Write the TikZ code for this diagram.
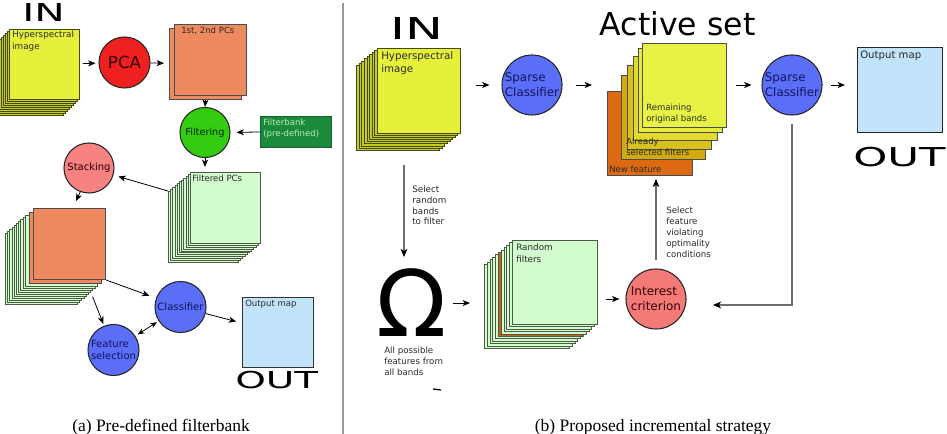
\documentclass[tikz,border=0pt]{standalone}
\usepackage{graphicx}
\usepackage{fontspec}
\setmainfont{DejaVu Sans}
\newfontfamily\capfont{Liberation Serif}
\usetikzlibrary{arrows.meta}
\definecolor{hsiY}{HTML}{E6F03A}
\definecolor{hsiL}{HTML}{C4CC2C}
\definecolor{hsiE}{HTML}{454A10}
\definecolor{pcaR}{HTML}{EE2020}
\definecolor{pcO}{HTML}{EE8A60}
\definecolor{filtG}{HTML}{33CC11}
\definecolor{fbG}{HTML}{1C8A3C}
\definecolor{fbT}{HTML}{B4ECB4}
\definecolor{lgF}{HTML}{D2FCCE}
\definecolor{lgE}{HTML}{4A5C44}
\definecolor{stkP}{HTML}{F88282}
\definecolor{clsB}{HTML}{5A6EF8}
\definecolor{navy}{HTML}{14145A}
\definecolor{outB}{HTML}{C2E4FA}
\definecolor{icP}{HTML}{F47A78}
\definecolor{nfO}{HTML}{DD6A12}
\definecolor{asBc}{HTML}{D2AA0E}
\definecolor{asCc}{HTML}{DAC21C}
\definecolor{asDc}{HTML}{E2DA2C}
\definecolor{asEc}{HTML}{E6EA3C}
\definecolor{asFc}{HTML}{E8F244}
\definecolor{rfO}{HTML}{CC6014}
\definecolor{conG}{HTML}{6E6E6E}
\definecolor{txt}{HTML}{2A2A2A}
\begin{document}
\begin{tikzpicture}[x=0.75pt,y=-0.75pt,
  sq/.style 2 args={rectangle, anchor=north west, inner sep=0pt, minimum width=#1*0.75pt, minimum height=#2*0.75pt, line width=0.7pt},
  circ/.style={circle, draw=black!85, line width=0.8pt, inner sep=0pt, minimum size=#1*0.75pt, align=left},
  lbl/.style={anchor=north west, inner sep=0pt, align=left, text=txt, font=\fontsize{6.4}{8.2}\selectfont},
  big/.style={anchor=base west, inner sep=0pt},
  arr/.style={-{Stealth[length=5.5pt,width=4.5pt,inset=1.5pt]}, line width=0.6pt},
  darr/.style={{Stealth[length=5pt,width=4pt,inset=1.5pt]}-{Stealth[length=5pt,width=4pt,inset=1.5pt]}, line width=0.6pt},
  garr/.style={draw=conG, line width=0.9pt, -{Stealth[length=6pt,width=5pt,inset=1.5pt,color=black]}},
  capt/.style={anchor=base, inner sep=0pt, font=\capfont\fontsize{13.1}{14}\selectfont}
]
\useasboundingbox (0,0) rectangle (947,434);
\fill[white] (0,0) rectangle (947,434);

% divider
\draw[color=black!40, line width=0.9pt] (343,3) -- (343,434);

% ================= (a) =================
\node[big, font=\fontsize{18.5}{18.5}\selectfont] (inA) at (22,22) {\scalebox{1.65}[1]{IN}};

\foreach \k in {8,...,1}
  \node[sq={70}{70}, fill=hsiL, draw=hsiE] (hsiA-\k) at ({9-2*\k},{29+2*\k}) {};
\node[sq={70}{70}, fill=hsiY, draw=hsiE] (hsiA) at (9,29) {};
\node[lbl, font=\fontsize{6.6}{8.3}\selectfont] (hsiAt) at (12,31) {Hyperspectral\\image};

\node[circ=51, fill=pcaR, font=\fontsize{12.5}{12.5}\selectfont, text=black!80!red] (pca) at (124.5,62.5) {PCA};

\node[sq={72}{71}, fill=pcO, draw=black!70] (pcsB) at (169,28) {};
\node[sq={72}{71}, fill=pcO, draw=black!70] (pcs) at (174,24) {};
\node[lbl] (pcst) at (181,27) {1st, 2nd PCs};

\node[circ=50, fill=filtG, font=\fontsize{7.3}{8}\selectfont, text=black!85!green] (filt) at (205,132.5) {Filtering};
\node[sq={71}{31}, fill=fbG, draw=fbG!70!black] (fb) at (260,116) {};
\node[lbl, text=fbT] (fbt) at (263,119) {Filterbank\\(pre-defined)};

\foreach \k in {10,...,1}
  \node[sq={70}{71}, fill=lgF, draw=lgE] (fpc-\k) at ({190-2.2*\k},{172+1.9*\k}) {};
\node[sq={70}{71}, fill=lgF, draw=lgE] (fpc) at (190,172) {};
\node[lbl] (fpct) at (192,175) {Filtered PCs};

\node[circ=50, fill=stkP, font=\fontsize{7.5}{8}\selectfont, text=black!85!red] (stk) at (89,168) {Stacking};

\foreach \k in {10,...,1}
  \node[sq={72}{71}, fill=lgF, draw=lgE] (stG-\k) at ({27-2.2*\k},{213+2*\k}) {};
\node[sq={72}{71}, fill=pcO, draw=black!70] (stB) at (29,212) {};
\node[sq={72}{71}, fill=pcO, draw=black!70] (stA) at (33,208) {};

\node[circ=51, fill=clsB, text=navy, font=\fontsize{7.6}{8}\selectfont] (cls) at (180.5,307) {Classifier};
\node[circ=51, fill=clsB, text=navy, font=\fontsize{7.5}{9.5}\selectfont] (fs) at (113.5,350) {Feature\\selection};
\node[sq={71}{70}, fill=outB, draw=black!80] (outA) at (242,297) {};
\node[lbl] (outAt) at (245,300) {Output map};
\node[big, font=\fontsize{17.5}{17.5}\selectfont] (outAL) at (235,389) {\scalebox{1.67}[1]{OUT}};

\node[capt] (capA) at (161,432) {(a) Pre-defined filterbank};

\coordinate (stkEnd) at (76,201);
\draw[arr, shorten <=2.25pt, shorten >=2.25pt] (hsiA) -- (pca);
\draw[arr, shorten >=3.75pt] (pca) -- (pcsB);
\draw[arr] (pcsB.south) -- (filt.north);
\draw[arr, shorten >=4.5pt] (fb.west) -- (filt.east);
\draw[arr, shorten >=3.75pt] (filt.south) -- (filt.south |- fpc.north);
\draw[arr, shorten >=3.75pt] (fpc-10.north west) -- (stk);
\draw[arr] (stk.250) -- (stkEnd);
\draw[arr, shorten >=5.25pt] (stA.south east) -- (cls);
\draw[arr, shorten <=3pt, shorten >=1.5pt] (stG-4.south east) -- (fs);
\draw[darr, shorten <=2pt, shorten >=1.5pt] (fs) -- (cls);
\draw[arr, shorten >=4.5pt] (cls) -- (outA);

% ================= (b) =================
\node[big, font=\fontsize{22.6}{22.6}\selectfont] (inB) at (390,40) {\scalebox{1.68}[1]{IN}};

\foreach \k in {8,...,1}
  \node[sq={83}{85}, fill=hsiL, draw=hsiE] (hsiB-\k) at ({377-2.6*\k},{48+2.1*\k}) {};
\node[sq={83}{85}, fill=hsiY, draw=hsiE] (hsiB) at (377,48) {};
\node[lbl, font=\fontsize{7.7}{10}\selectfont] (hsiBt) at (381,51) {Hyperspectral\\image};

\node[circ=60, fill=clsB, text=navy, font=\fontsize{8.9}{11.3}\selectfont] (sc1) at (532,85) {Sparse\\Classifier};

\node[big, font=\fontsize{23.6}{23.6}\selectfont] (actT) at (599.7,36) {Active set};

\node[sq={85}{84}, fill=nfO, draw=black!70] (asA) at (607,91) {};
\node[sq={84}{84}, fill=asBc, draw=black!70] (asB) at (621,75) {};
\node[sq={84}{84}, fill=asCc, draw=black!70] (asC) at (627,65) {};
\node[sq={84}{84}, fill=asDc, draw=black!70] (asD) at (633,56) {};
\node[sq={84}{84}, fill=asEc, draw=black!70] (asE) at (638,48) {};
\node[sq={84}{84}, fill=asFc, draw=black!70] (asF) at (642,43) {};
\node[lbl] (asAt) at (609,165.5) {New feature};
\node[lbl] (asBt) at (626,138) {Already\\selected filters};
\node[lbl] (asFt) at (646,104) {Remaining\\original bands};

\node[circ=60, fill=clsB, text=navy, font=\fontsize{8.9}{11.3}\selectfont] (sc2) at (792,85) {Sparse\\Classifier};
\node[sq={85}{85}, fill=outB, draw=black!85] (outB) at (857,47) {};
\node[lbl, font=\fontsize{7.6}{9}\selectfont] (outBt) at (860,51) {Output map};
\node[big, font=\fontsize{19.5}{19.5}\selectfont] (outBL) at (853,167) {\scalebox{1.67}[1]{OUT}};

\node[anchor=base, inner sep=0pt, font=\fontsize{69}{69}\selectfont] (omg) at (411.5,337) {\raisebox{0pt}[\height][0pt]{Ω}};
\node[lbl, font=\fontsize{6.5}{8.2}\selectfont] (allF) at (384,347) {All possible\\features from\\all bands};
\node[lbl, font=\fontsize{6.6}{8.1}\selectfont] (selR) at (412,185.5) {Select\\random\\bands\\to filter};

\foreach \k/\c in {10/lgF,9/lgF,8/lgF,7/lgF,6/lgF,5/rfO,4/lgF,3/lgF,2/lgF,1/lgF}
  \node[sq={85}{84}, fill=\c, draw=lgE] (rf-\k) at ({512-2.8*\k},{240+2.4*\k}) {};
\node[sq={85}{84}, fill=lgF, draw=lgE] (rf) at (512,240) {};
\node[lbl, font=\fontsize{6.6}{8.3}\selectfont] (rft) at (516,244) {Random\\filters};

\node[circ=60, fill=icP, text=black!80!red, font=\fontsize{9}{11.5}\selectfont] (ic) at (656,299) {Interest\\criterion};
\node[lbl, font=\fontsize{6.5}{8.25}\selectfont] (selF) at (666,207) {Select\\feature\\violating\\optimality\\conditions};

\node[capt] (capB) at (653,432) {(b) Proposed incremental strategy};

\coordinate (selA) at (404,165);
\coordinate (selB) at (404,257);
\coordinate (icIn) at (713,305);
\coordinate (dashA) at (433,389);
\coordinate (dashB) at (441,390);

\draw[arr, shorten <=11.25pt, shorten >=9pt] (hsiB.east |- sc1) -- (sc1.west);
\draw[arr, shorten <=9.75pt, shorten >=11.25pt] (sc1.east) -- (sc1.east -| asA.west);
\draw[arr, shorten <=6.75pt, shorten >=7.5pt] (asF.east |- sc2) -- (sc2.west);
\draw[arr, shorten <=6pt, shorten >=9pt] (sc2.east) -- (sc2.east -| outB.west);
\draw[garr, shorten <=6pt] (sc2.south) |- (icIn);
\draw[garr, shorten <=6pt, shorten >=2.25pt] (ic.north) -- (ic.north |- asA.south);
\draw[garr] (selA) -- (selB);
\draw[arr, shorten <=4.5pt, shorten >=10.5pt] (omg.east) -- (omg.east -| rf-10.west);
\draw[arr, shorten <=6pt, shorten >=4.5pt] (ic.west -| rf.east) -- (ic.west);
\draw[line width=0.9pt] (dashA) -- (dashB);
\end{tikzpicture}
\end{document}
